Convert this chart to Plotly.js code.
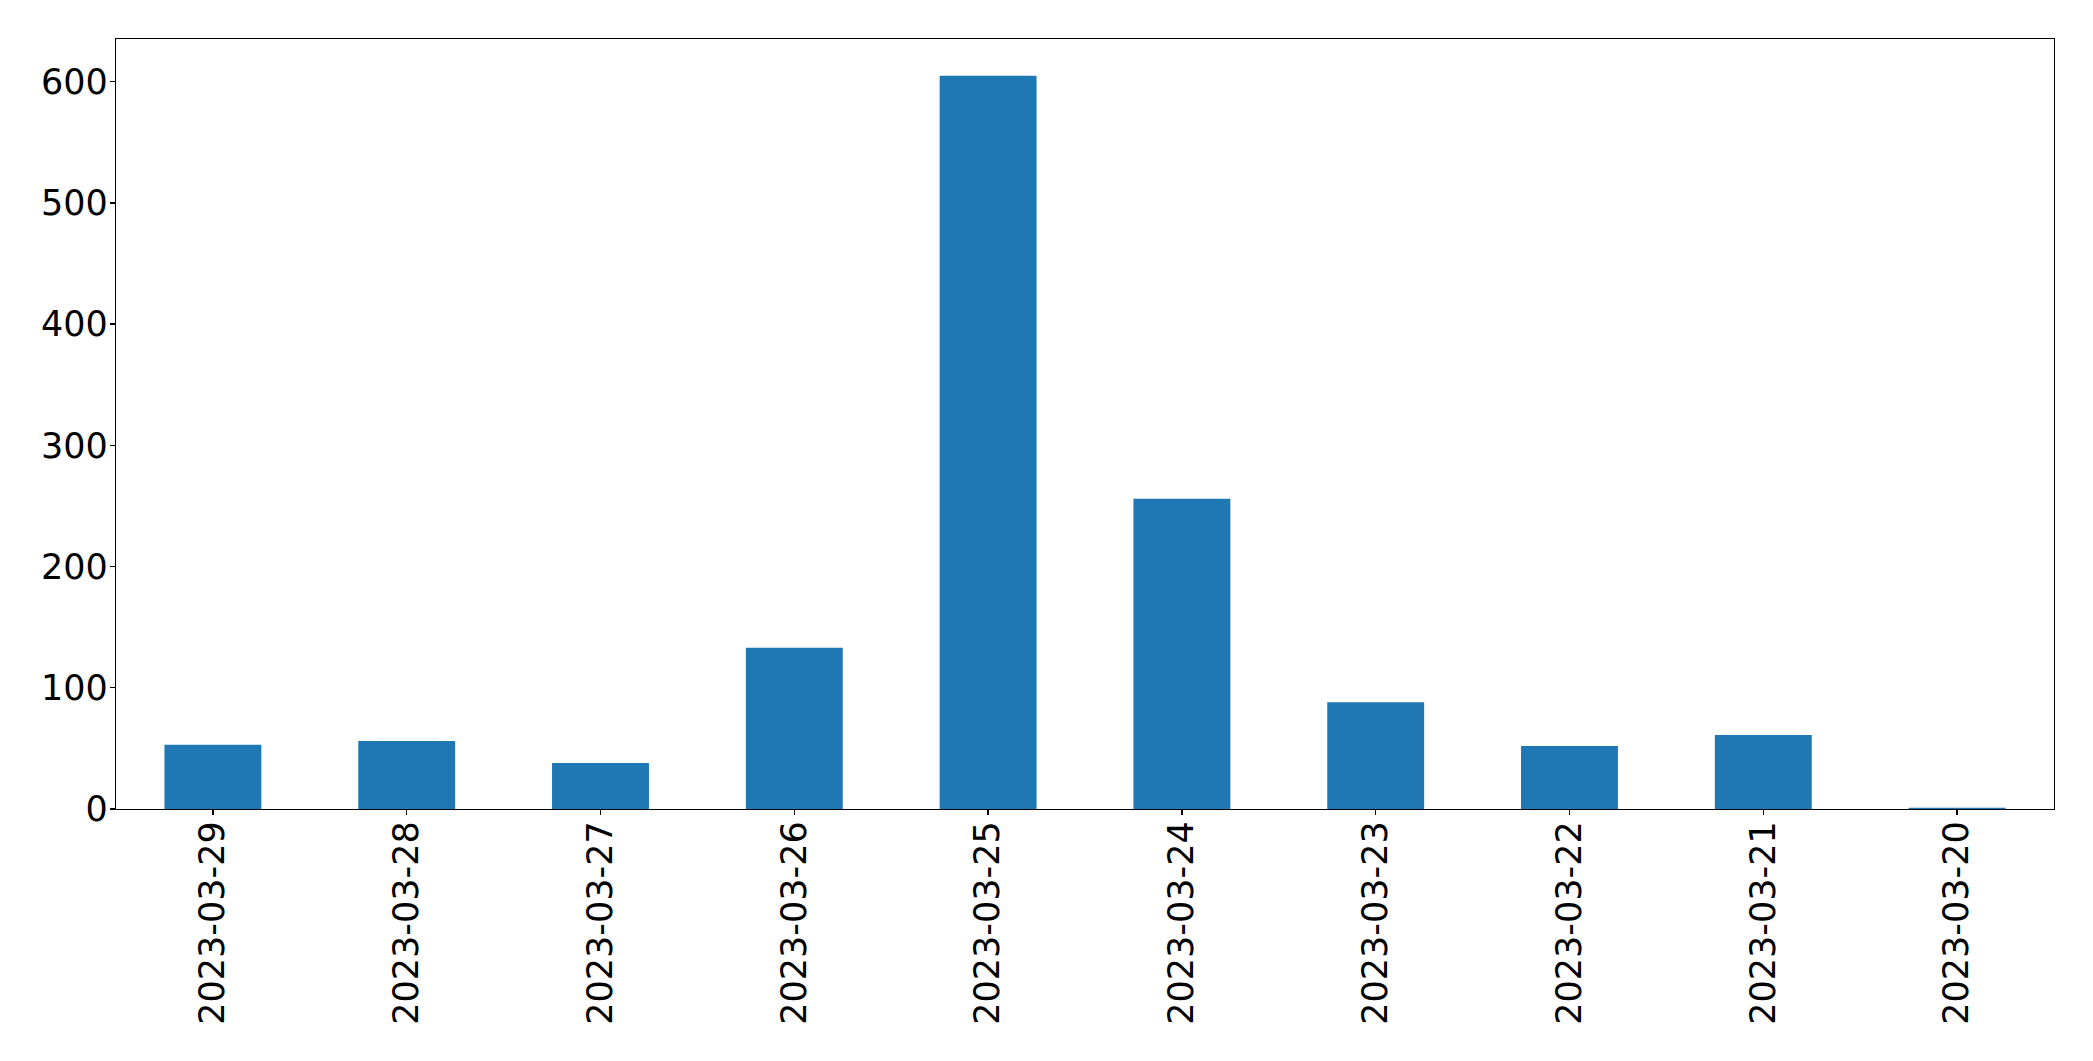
<!DOCTYPE html>
<html>
<head>
<meta charset="utf-8">
<script src="https://cdn.plot.ly/plotly-3.0.1.min.js"></script>
<style>
html,body{margin:0;padding:0;background:#fff;}
#chart{width:2093px;height:1061px;}
</style>
</head>
<body>
<div id="chart"></div>
<script>
const dates = ["2023-03-29","2023-03-28","2023-03-27","2023-03-26","2023-03-25","2023-03-24","2023-03-23","2023-03-22","2023-03-21","2023-03-20"];
const counts = [53, 56, 38, 133, 605, 256, 88, 52, 61, 1];
const yTicks = [0, 100, 200, 300, 400, 500, 600];

const fontSpec = {family: "DejaVu Sans", size: 35, color: "#000"};

Plotly.newPlot("chart", [{
  type: "bar",
  x: dates,
  y: counts,
  marker: {color: "#1f77b4", line: {width: 0}},
  hoverinfo: "x+y"
}], {
  width: 2093,
  height: 1061,
  margin: {l: 116, r: 39, t: 39, b: 252, pad: 0},
  paper_bgcolor: "#fff",
  plot_bgcolor: "#fff",
  bargap: 0.5,
  showlegend: false,
  font: fontSpec,
  xaxis: {
    type: "category",
    range: [-0.5, dates.length - 0.5],
    tickangle: -90,
    ticks: "outside",
    ticklen: 5,
    tickwidth: 1.3,
    tickcolor: "#000",
    ticklabelstandoff: -8,
    showline: true,
    linecolor: "#000",
    linewidth: 1.3,
    mirror: true,
    showgrid: false,
    zeroline: false,
    tickfont: fontSpec,
    automargin: false
  },
  yaxis: {
    range: [0, Math.max(...counts) * 1.05],
    tickvals: yTicks,
    ticktext: yTicks.map(String),
    ticks: "outside",
    ticklen: 5,
    tickwidth: 1.3,
    tickcolor: "#000",
    ticklabelstandoff: -5,
    showline: true,
    linecolor: "#000",
    linewidth: 1.3,
    mirror: true,
    showgrid: false,
    zeroline: false,
    tickfont: fontSpec,
    automargin: false
  }
}, {displayModeBar: false, staticPlot: true});
</script>
</body>
</html>
